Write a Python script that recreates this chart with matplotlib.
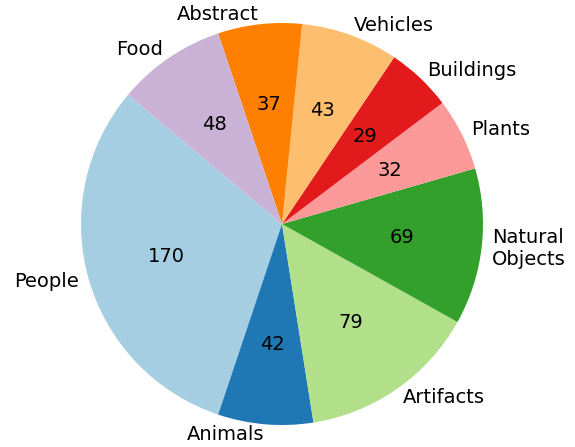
import numpy as np
import matplotlib.pyplot as plt

categories = ["People", "Animals", "Artifacts", "Natural\nObjects", "Plants",
              "Buildings", "Vehicles", "Abstract", "Food"]
counts = [170, 42, 79, 69, 32, 29, 43, 37, 48]

colors = plt.get_cmap("Paired").colors[:len(counts)]
total = sum(counts)

fig = plt.figure(figsize=(5.75, 4.47), dpi=100)
# pie centred near (282, 224) px with radius ~201 px
ax = fig.add_axes([81 / 575, 22 / 447, 402 / 575, 402 / 447])

ax.pie(
    counts, labels=categories, colors=colors, startangle=140,
    labeldistance=1.05,
    autopct=lambda p: f"{int(round(p * total / 100))}",
    textprops={"fontsize": 14},
)
ax.set_xlim(-1, 1)
ax.set_ylim(-1, 1)
ax.set_aspect("equal")

fig.savefig("out.png", dpi=100)
